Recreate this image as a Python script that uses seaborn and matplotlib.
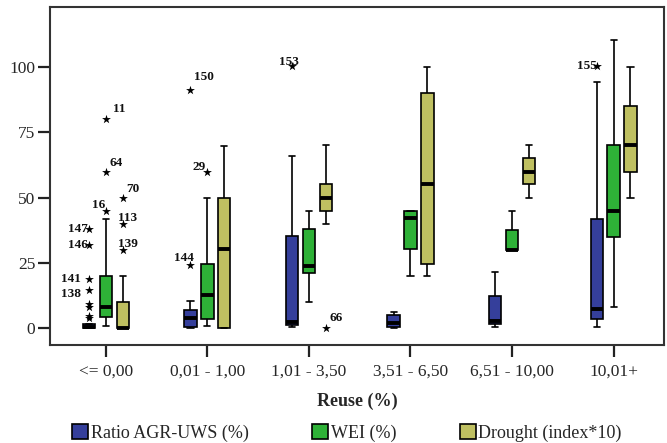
import matplotlib
matplotlib.use("Agg")
import matplotlib.pyplot as plt
import seaborn as sns
import pandas as pd

groups = ["<= 0,00", "0,01 - 1,00", "1,01 - 3,50", "3,51 - 6,50", "6,51 - 10,00", "10,01+"]
series = ["Ratio AGR-UWS (%)", "WEI (%)", "Drought (index*10)"]
colors = ["#353f9b", "#2eb137", "#bfc061"]

# per group: whisker low, Q1, median, Q3, whisker high
ratio_box = [[0, 0, 0.6, 1.5, 1.5], [0, 0.6, 3.8, 7, 10.4], [0.6, 1.3, 2.5, 35.4, 66],
             [0, 0.4, 1.9, 5.1, 6.4], [0.6, 1.5, 2.8, 12.3, 21.4], [0.6, 3.6, 7.4, 42, 94.3]]
wei_box = [[0.9, 4.4, 8, 20, 42], [0.9, 3.4, 12.6, 24.8, 50], [10.2, 21.3, 24, 38.2, 45],
           [20, 30.2, 42.4, 45, 45], [30, 30, 30, 37.6, 45], [8, 34.8, 45, 70, 110.2]]
drought_box = [[0, 0, 0, 10.2, 20], [0, 0, 30.2, 50, 69.8], [40, 45, 50, 55.3, 70],
               [20, 24.8, 55.2, 90, 100], [50, 55.2, 59.9, 65, 70], [50, 60, 70, 85, 100]]

# extreme values (stars) with case numbers
out_series = [0, 0, 0, 0, 0, 0, 0, 0, 1, 1, 1, 2, 2, 2, 0, 0, 1, 0, 2, 0]
out_group = [0, 0, 0, 0, 0, 0, 0, 0, 0, 0, 0, 0, 0, 0, 1, 1, 1, 2, 2, 5]
out_value = [38, 32, 19, 14.6, 9.5, 8.3, 4.7, 3.8, 45, 60, 80, 30, 40, 50, 24.2, 91, 60, 100.5, 0, 100.3]
out_label = ["147", "146", "141", "138", "", "", "", "", "16", "64", "11",
             "139", "113", "70", "144", "150", "29", "153", "66", "155"]

# label placement (pixels from the star, horizontal alignment)
label_pos = [(-1, 0, "right"), (-1, 0, "right"), (-8, 0, "right"), (-8, -4, "right"),
             (0, 0, "left"), (0, 0, "left"), (0, 0, "left"), (0, 0, "left"),
             (-1, 6, "right"), (4, 9, "left"), (7, 10, "left"),
             (-5, 6, "left"), (-5, 6, "left"), (3, 9, "left"),
             (3, 7, "right"), (4, 13, "left"), (-2, 5, "right"),
             (7, 4, "right"), (4, 10, "left"), (0, 0, "right")]

rows = []
for name, boxes in zip(series, [ratio_box, wei_box, drought_box]):
    for g, vals in zip(groups, boxes):
        for v in vals:
            rows.append({"Reuse": g, "value": v, "var": name})
df = pd.DataFrame(rows)

sns.set_style("white")
plt.rcParams["font.family"] = ["Liberation Serif", "DejaVu Serif"]

fig = plt.figure(figsize=(6.67, 4.43), dpi=100)
ax = fig.add_axes([0.075, 0.221, 0.921, 0.763])

width = 0.5
sns.boxplot(data=df, x="Reuse", y="value", hue="var", order=groups, hue_order=series,
            palette=colors, width=width, gap=0.28, whis=(0, 100), saturation=1,
            linecolor="black", linewidth=1.2,
            medianprops={"linewidth": 2.8, "color": "black"},
            ax=ax)

step = width / len(series)
out_x = [g + (s - 1) * step for g, s in zip(out_group, out_series)]
sns.scatterplot(x=out_x, y=out_value, marker="*", color="black", s=45, linewidth=0, ax=ax, zorder=5)
for x, y, lab, (dx, dy, ha) in zip(out_x, out_value, out_label, label_pos):
    if lab:
        ax.annotate(lab, (x, y), xytext=(dx, dy), textcoords="offset pixels",
                    ha=ha, va="center", fontsize=9.5, fontweight="bold", color="#111111")

handles, labels = ax.get_legend_handles_labels()
ax.get_legend().remove()

ax.set_xlim(-0.55, 5.5)
ax.set_ylim(-6.4, 122.9)
ax.set_yticks([0, 25, 50, 75, 100])
ax.set_ylabel("")
ax.set_xlabel("Reuse (%)", fontsize=13, fontweight="bold", labelpad=9)
ax.tick_params(axis="both", which="major", length=8.5, width=1.6, color="#222222",
               labelsize=12.5, bottom=True, left=True)
ax.tick_params(axis="x", pad=5)
ax.tick_params(axis="y", pad=2)
for sp in ax.spines.values():
    sp.set_color("#333333")
    sp.set_linewidth(1.5)

fig.legend(handles, labels, loc="center", bbox_to_anchor=(0.52, 1 - 433 / 443), ncol=3,
           frameon=False, fontsize=13, handlelength=0.9, handleheight=0.9,
           handletextpad=0.15, columnspacing=3.5)

fig.savefig("out.png", dpi=100)
